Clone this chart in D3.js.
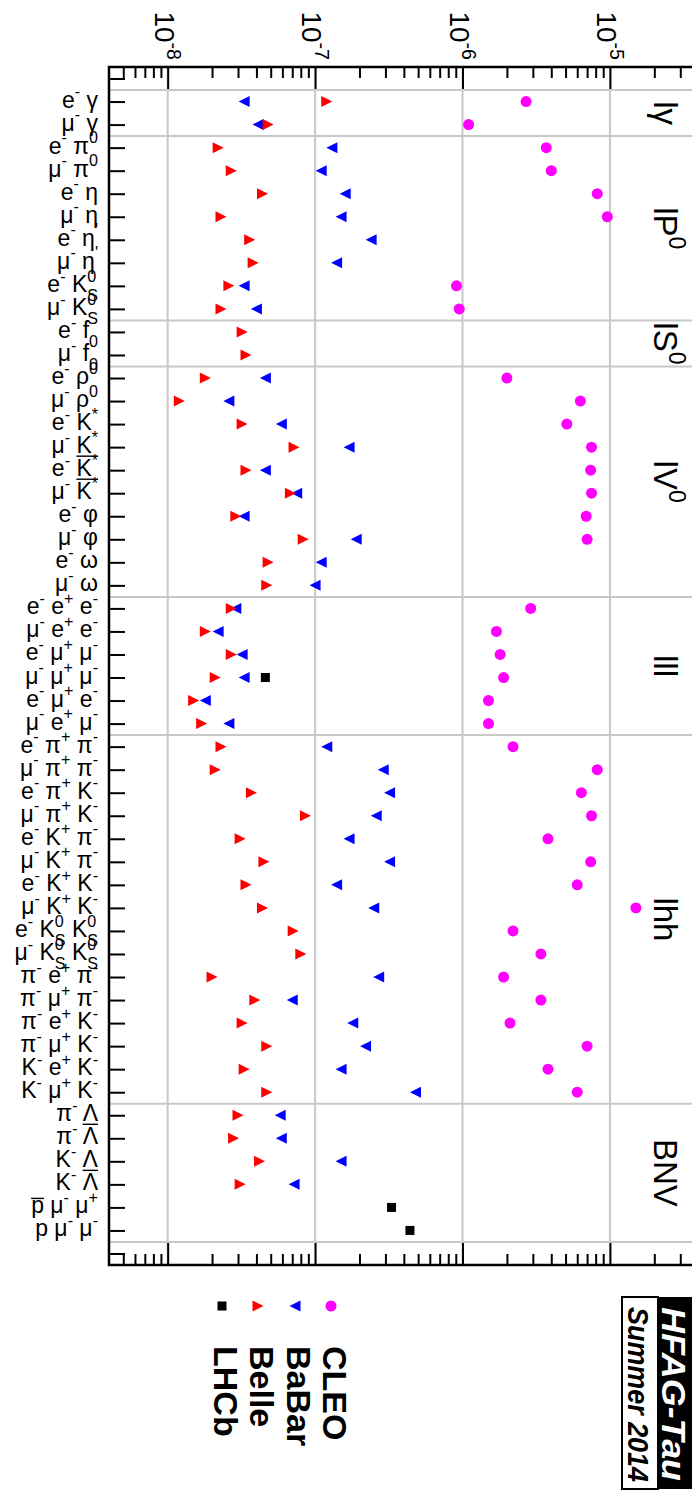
<!DOCTYPE html>
<html><head><meta charset="utf-8">
<script src="https://cdn.jsdelivr.net/npm/d3@7"></script>
<style>
body{margin:0;background:#fff}
svg{display:block}
text{font-family:"Liberation Sans",Arial,Helvetica,sans-serif;white-space:pre}
</style>
</head><body>
<svg id="chart" width="692" height="1491"></svg>
<script>
// ---------------- data ----------------
const categories = [
 "e^{-} γ","μ^{-} γ",
 "e^{-} π^{0}","μ^{-} π^{0}","e^{-} η","μ^{-} η","e^{-} η^{'}","μ^{-} η^{'}","e^{-} K_{S}^{0}","μ^{-} K_{S}^{0}",
 "e^{-} f_{0}","μ^{-} f_{0}",
 "e^{-} ρ^{0}","μ^{-} ρ^{0}","e^{-} K^{*}","μ^{-} K^{*}","e^{-} ~{K^{*}}","μ^{-} ~{K^{*}}","e^{-} φ","μ^{-} φ","e^{-} ω","μ^{-} ω",
 "e^{-} e^{+} e^{-}","μ^{-} e^{+} e^{-}","e^{-} μ^{+} μ^{-}","μ^{-} μ^{+} μ^{-}","e^{-} μ^{+} e^{-}","μ^{-} e^{+} μ^{-}",
 "e^{-} π^{+} π^{-}","μ^{-} π^{+} π^{-}","e^{-} π^{+} K^{-}","μ^{-} π^{+} K^{-}","e^{-} K^{+} π^{-}","μ^{-} K^{+} π^{-}",
 "e^{-} K^{+} K^{-}","μ^{-} K^{+} K^{-}","e^{-} K_{S}^{0} K_{S}^{0}","μ^{-} K_{S}^{0} K_{S}^{0}","π^{-} e^{+} π^{-}","π^{-} μ^{+} π^{-}",
 "π^{-} e^{+} K^{-}","π^{-} μ^{+} K^{-}","K^{-} e^{+} K^{-}","K^{-} μ^{+} K^{-}",
 "π^{-} Λ","π^{-} ~{Λ}","K^{-} Λ","K^{-} ~{Λ}","~{p} μ^{-} μ^{+}","p μ^{-} μ^{-}"
];
const groupNames = ["lγ","lP^{0}","lS^{0}","lV^{0}","lll","lhh","BNV"];
const groupSizes = [2,8,2,10,6,16,6];

const cleo = [2.7e-6,1.1e-6, 3.7e-6,4.0e-6,8.2e-6,9.6e-6,null,null,9.1e-7,9.5e-7, null,null,
 2.0e-6,6.3e-6,5.1e-6,7.5e-6,7.4e-6,7.5e-6,6.9e-6,7.0e-6,null,null,
 2.9e-6,1.7e-6,1.8e-6,1.9e-6,1.5e-6,1.5e-6,
 2.2e-6,8.2e-6,6.4e-6,7.5e-6,3.8e-6,7.4e-6,6.0e-6,1.5e-5,2.2e-6,3.4e-6,1.9e-6,3.4e-6,2.1e-6,7.0e-6,3.8e-6,6.0e-6,
 null,null,null,null,null,null];
const babar = [3.3e-8,4.1e-8, 1.3e-7,1.1e-7,1.6e-7,1.5e-7,2.4e-7,1.4e-7,3.3e-8,4.0e-8, null,null,
 4.6e-8,2.6e-8,5.9e-8,1.7e-7,4.6e-8,7.5e-8,3.3e-8,1.9e-7,1.1e-7,1.0e-7,
 2.9e-8,2.2e-8,3.2e-8,3.3e-8,1.8e-8,2.6e-8,
 1.2e-7,2.9e-7,3.2e-7,2.6e-7,1.7e-7,3.2e-7,1.4e-7,2.5e-7,null,null,2.7e-7,7.0e-8,1.8e-7,2.2e-7,1.5e-7,4.8e-7,
 5.8e-8,5.9e-8,1.5e-7,7.2e-8,null,null];
const belle = [1.2e-7,4.8e-8, 2.2e-8,2.7e-8,4.4e-8,2.3e-8,3.6e-8,3.8e-8,2.6e-8,2.3e-8, 3.2e-8,3.4e-8,
 1.8e-8,1.2e-8,3.2e-8,7.2e-8,3.4e-8,6.8e-8,2.9e-8,8.3e-8,4.8e-8,4.7e-8,
 2.7e-8,1.8e-8,2.7e-8,2.1e-8,1.5e-8,1.7e-8,
 2.3e-8,2.1e-8,3.7e-8,8.6e-8,3.1e-8,4.5e-8,3.4e-8,4.4e-8,7.1e-8,8.0e-8,2.0e-8,3.9e-8,3.2e-8,4.7e-8,3.3e-8,4.7e-8,
 3.0e-8,2.8e-8,4.2e-8,3.1e-8,null,null];
const lhcb = [null,null, null,null,null,null,null,null,null,null, null,null,
 null,null,null,null,null,null,null,null,null,null,
 null,null,null,4.6e-8,null,null,
 null,null,null,null,null,null,null,null,null,null,null,null,null,null,null,null,
 null,null,null,null,3.3e-7,4.4e-7];

const tickValues = [1e-8,1e-7,1e-6,1e-5];
const tickLabels = ["10^{-8}","10^{-7}","10^{-6}","10^{-5}"];
const legendNames = ["CLEO","BaBar","Belle","LHCb"];
const legendColors = ["#ff00ff","#0000ff","#ff0000","#000000"];
const logoTitle = "HFAG-Tau";
const logoSub = "Summer 2014";

// ---------------- layout ----------------
const svg = d3.select("#chart");
const frame = {left:109, top:67, bottom:1265, right:698.7};
const x = d3.scaleLog().domain([4e-9,4e-5]).range([frame.left, frame.right]);
const y = d3.scaleLinear().domain([-1.5,50.5]).range([frame.top, frame.bottom]);

// rich text (TLatex-like) helper
let overCounter = 0;
function parseRich(str, over=null){
  const out=[]; let buf=''; let i=0;
  const flush=()=>{ if(buf){ out.push({type:'n',text:buf,over}); buf=''; } };
  while(i<str.length){
    const c=str[i];
    if((c==='^'||c==='_'||c==='~') && str[i+1]==='{'){
      flush();
      let depth=0,k=i+1;
      for(;k<str.length;k++){ if(str[k]==='{')depth++; else if(str[k]==='}'){ if(--depth===0)break; } }
      const inner=str.slice(i+2,k);
      if(c==='~'){ out.push(...parseRich(inner, ++overCounter)); }
      else out.push({type:c==='^'?'sup':'sub', text:inner, over});
      i=k+1;
    } else { buf+=c; i++; }
  }
  flush();
  return out;
}
function renderRich(textSel, str, fs){
  const toks=parseRich(str);
  let shift=0, pending=0, idx=0;
  toks.forEach((t,i)=>{
    const target = t.type==='sup' ? -0.45*fs : t.type==='sub' ? 0.38*fs : 0;
    const ts=textSel.append('tspan').attr('font-size', t.type==='n'?fs:0.7*fs)
      .attr('dy', target-shift).text(t.text);
    shift=target;
    let dx=pending; pending=0;
    const prev=toks[i-1];
    if(t.type==='sup' && prev && prev.type==='sub'){
      const pl=prev.node.getComputedTextLength();
      const ml=ts.node().getComputedTextLength();
      dx=-pl; if(pl>ml) pending=pl-ml;
    }
    if(dx) ts.attr('dx',dx);
    t.node=ts.node(); t.start=idx; idx+=t.text.length; t.end=idx-1;
  });
  return toks;
}

// grid
const bounds = [-0.5];
groupSizes.reduce((a,s)=>{ bounds.push(a+s-0.5); return a+s; },0);
svg.append('g').selectAll('line').data(bounds).join('line')
  .attr('x1',frame.left).attr('x2',frame.right+5)
  .attr('y1',d=>y(d)).attr('y2',d=>y(d))
  .attr('stroke','#c8c8c8').attr('stroke-width',2);
svg.append('g').selectAll('line').data(tickValues).join('line')
  .attr('x1',d=>x(d)).attr('x2',d=>x(d))
  .attr('y1',frame.top).attr('y2',frame.bottom)
  .attr('stroke','#c8c8c8').attr('stroke-width',2);

// log ticks top & bottom
const minor=[];
for(let e=-9;e<=-5;e++) for(let k=2;k<=9;k++){ const v=k*Math.pow(10,e); if(v>4.0001e-9 && v<3.999e-5) minor.push(v); }
function styleAxis(g){ g.select('.domain').remove(); g.selectAll('text').remove(); g.selectAll('line').attr('stroke','#000').attr('stroke-width',2); }
svg.append('g').attr('transform',`translate(0,${frame.top})`).call(d3.axisBottom(x).tickValues(minor).tickSize(11)).call(styleAxis);
svg.append('g').attr('transform',`translate(0,${frame.top})`).call(d3.axisBottom(x).tickValues(tickValues).tickSize(22)).call(styleAxis);
svg.append('g').attr('transform',`translate(0,${frame.bottom})`).call(d3.axisTop(x).tickValues(minor).tickSize(11)).call(styleAxis);
svg.append('g').attr('transform',`translate(0,${frame.bottom})`).call(d3.axisTop(x).tickValues(tickValues).tickSize(22)).call(styleAxis);
svg.append('g').attr('transform',`translate(${frame.left},0)`).call(d3.axisRight(y).tickValues(d3.range(-1,51)).tickSize(16)).call(styleAxis);

// frame
svg.append('rect').attr('x',frame.left).attr('y',frame.top)
  .attr('width',frame.right-frame.left).attr('height',frame.bottom-frame.top)
  .attr('fill','none').attr('stroke','#000').attr('stroke-width',2.5);

// tick labels (rotated)
tickValues.forEach((v,i)=>{
  const t=svg.append('text').attr('transform',`translate(${x(v)-13},60) rotate(90)`)
    .attr('text-anchor','end').attr('font-size',28);
  renderRich(t, tickLabels[i], 28);
});

// category labels
const LFS=23;
categories.forEach((c,i)=>{
  const by=y(i)+6;
  const t=svg.append('text').attr('x',98).attr('y',by).attr('text-anchor','end').attr('font-size',LFS);
  const toks=renderRich(t,c,LFS);
  const groups=d3.group(toks.filter(d=>d.over),d=>d.over);
  groups.forEach(ts=>{
    const node=t.node();
    const s=node.getStartPositionOfChar(ts[0].start);
    const e=node.getEndPositionOfChar(ts[ts.length-1].end);
    const lower=/^[a-z]/.test(ts[0].text);
    const oy = by - (lower ? 15 : 20);
    svg.append('line').attr('x1',s.x).attr('x2',e.x).attr('y1',oy).attr('y2',oy)
      .attr('stroke','#000').attr('stroke-width',1.4);
  });
});

// group labels
let acc=0;
groupNames.forEach((g,i)=>{
  const cy=y(acc+(groupSizes[i]-1)/2); acc+=groupSizes[i];
  const t=svg.append('text').attr('transform',`translate(654,${cy}) rotate(90)`)
    .attr('text-anchor','middle').attr('font-size',33);
  renderRich(t,g,33);
});

// markers
const R=5.5;
const triL=(cx,cy)=>`M${cx-R},${cy}L${cx+R},${cy-R}L${cx+R},${cy+R}Z`;
const triR=(cx,cy)=>`M${cx+R},${cy}L${cx-R},${cy-R}L${cx-R},${cy+R}Z`;
const idx=d3.range(categories.length);
svg.append('g').selectAll('circle').data(idx.filter(i=>cleo[i]!=null)).join('circle')
  .attr('cx',i=>x(cleo[i])).attr('cy',i=>y(i)).attr('r',R).attr('fill',legendColors[0]);
svg.append('g').selectAll('path').data(idx.filter(i=>babar[i]!=null)).join('path')
  .attr('d',i=>triL(x(babar[i]),y(i))).attr('fill',legendColors[1]);
svg.append('g').selectAll('path').data(idx.filter(i=>belle[i]!=null)).join('path')
  .attr('d',i=>triR(x(belle[i]),y(i))).attr('fill',legendColors[2]);
svg.append('g').selectAll('rect').data(idx.filter(i=>lhcb[i]!=null)).join('rect')
  .attr('x',i=>x(lhcb[i])-4.5).attr('y',i=>y(i)-4.5).attr('width',9).attr('height',9).attr('fill',legendColors[3]);

// legend
const legX=[331,295,258,222], legY=1306;
legendNames.forEach((n,i)=>{
  const cx=legX[i];
  if(i===0) svg.append('circle').attr('cx',cx).attr('cy',legY).attr('r',R).attr('fill',legendColors[i]);
  else if(i===1) svg.append('path').attr('d',triL(cx,legY)).attr('fill',legendColors[i]);
  else if(i===2) svg.append('path').attr('d',triR(cx,legY)).attr('fill',legendColors[i]);
  else svg.append('rect').attr('x',cx-4.5).attr('y',legY-4.5).attr('width',9).attr('height',9).attr('fill',legendColors[i]);
  svg.append('text').attr('transform',`translate(${cx-8},1346) rotate(90)`)
    .attr('font-size',34).attr('font-weight','bold').text(n);
});

// logo
svg.append('rect').attr('x',658).attr('y',1297).attr('width',45).attr('height',192).attr('fill','#000');
svg.append('rect').attr('x',622).attr('y',1297).attr('width',36).attr('height',192)
  .attr('fill','#fff').attr('stroke','#000').attr('stroke-width',2);
svg.append('text').attr('transform','translate(662,1307) rotate(90)')
  .attr('font-size',34).attr('font-weight','bold').attr('font-style','italic').attr('fill','#fff')
  .attr('textLength',174).attr('lengthAdjust','spacingAndGlyphs').text(logoTitle);
svg.append('text').attr('transform','translate(628,1307) rotate(90)')
  .attr('font-size',29).attr('font-weight','bold').attr('font-style','italic').attr('fill','#000')
  .attr('textLength',175).attr('lengthAdjust','spacingAndGlyphs').text(logoSub);
</script>
</body></html>
